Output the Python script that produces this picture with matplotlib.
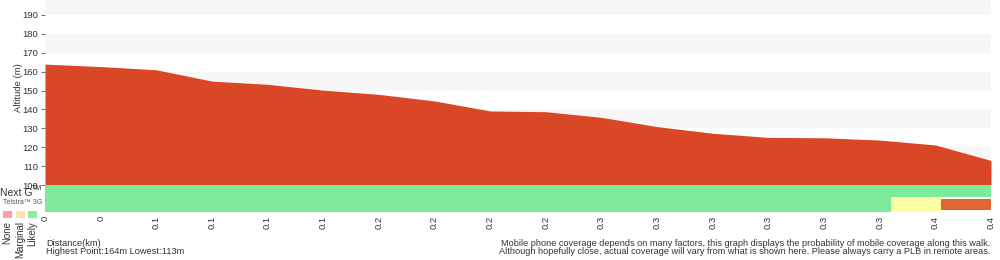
import matplotlib
matplotlib.use("Agg")
import matplotlib.pyplot as plt
from matplotlib.patches import Rectangle

plt.rcParams['font.family'] = ['Liberation Sans', 'DejaVu Sans']

# ---- data ----
tick_labels = ["0", "0", "0.1", "0.1", "0.1", "0.1", "0.2", "0.2", "0.2", "0.2",
               "0.3", "0.3", "0.3", "0.3", "0.3", "0.3", "0.4", "0.4"]
altitude = [164, 162.7, 161, 155, 153.3, 150.2, 148, 144.5, 139.2, 138.8,
            135.8, 130.9, 127.4, 125.2, 125.0, 123.8, 121.2, 113]
y_ticks = [100, 110, 120, 130, 140, 150, 160, 170, 180, 190]
# coverage segments: (start index, end index, level)
nextg_segments = [(0, 17, "Likely")]
g3_segments = [(0, 15.2, "Likely"), (15.2, 16.1, "Marginal"), (16.1, 17, "None")]
legend_labels = ["None", "Marginal", "Likely"]

RED = "#da4727"
bar_colors = {"Likely": "#7deb9b", "Marginal": "#ffffa3", "None": "#e0652f"}
legend_colors = {"None": "#ff9f9f", "Marginal": "#ffe2a8", "Likely": "#88ef9a"}
TXT = "#333333"

fig = plt.figure(figsize=(10, 2.6), dpi=100)
W, H = 1000, 260

def fx(px):
    return px / W

def fy(py):
    return 1 - py / H

x = list(range(len(altitude)))
x0, x1 = 45, 991

# main altitude axes (pixel 0 .. 185)
ax = fig.add_axes([fx(x0), fy(185), fx(x1 - x0), 185 / H])
ymax = 100 + 185 / 1.889
ax.set_xlim(0, len(altitude) - 1)
ax.set_ylim(100, ymax)
for b in range(110, 200, 20):
    ax.axhspan(b, b + 10, color="#f7f7f7", lw=0, zorder=0)
ax.fill_between(x, 100, altitude, color=RED, lw=0, zorder=2)
ax.set_yticks(y_ticks)
ax.set_yticklabels([str(v) for v in y_ticks], fontsize=6.8, color=TXT)
ax.tick_params(axis="y", length=3, width=0.8, color="#777777", pad=2)
ax.set_xticks([])
for s in ax.spines.values():
    s.set_visible(False)
ax.set_ylabel("Altitude (m)", fontsize=6.8, color=TXT)
ax.yaxis.set_label_coords((23 - x0) / (x1 - x0), (185 - 88) / 185)

# coverage axes (pixel 185 .. 212)
cax = fig.add_axes([fx(x0), fy(212), fx(x1 - x0), 27 / H])
cax.set_xlim(0, len(altitude) - 1)
cax.set_ylim(0, 27)
for (a, b, lvl) in nextg_segments:
    cax.add_patch(Rectangle((a, 15), b - a, 12, color=bar_colors[lvl], lw=0))
for (a, b, lvl) in g3_segments:
    if lvl == "None":
        cax.add_patch(Rectangle((a, 1.8), b - a, 11, color=bar_colors[lvl], lw=0))
    else:
        cax.add_patch(Rectangle((a, 0), b - a, 15.3, color=bar_colors[lvl], lw=0))
for s in cax.spines.values():
    s.set_visible(False)
cax.set_yticks([])
cax.set_xticks(x)
cax.set_xticklabels(tick_labels, rotation=90, fontsize=6.8, color=TXT)
cax.tick_params(axis="x", length=0, pad=3)

# left-side labels
fig.text(fx(0), fy(193), "Next G", fontsize=7.5, color=TXT, va="center", ha="left")
fig.text(fx(32), fy(189), "TM", fontsize=5, color=TXT, va="center", ha="left")
fig.text(fx(3), fy(203), "Telstra\u2122 3G", fontsize=5, color="#555555", va="center", ha="left")
sq_x = [3, 16, 28]
for px, lbl in zip(sq_x, legend_labels):
    fig.patches.append(Rectangle((fx(px), fy(218)), 8.5 / W, 7.5 / H,
                                 transform=fig.transFigure, color=legend_colors[lbl], lw=0))
    fig.text(fx(px + 4.5), fy(221), lbl, rotation=90, fontsize=7, color=TXT,
             ha="center", va="top")

# bottom texts
fig.text(fx(46), fy(243), "Distance(km)", fontsize=6.7, color=TXT, va="center", ha="left")
fig.text(fx(46), fy(252), "Highest Point:164m Lowest:113m", fontsize=6.7, color=TXT,
         va="center", ha="left")
fig.text(fx(990), fy(243),
         "Mobile phone coverage depends on many factors, this graph displays the probability of mobile coverage along this walk.",
         fontsize=6.6, color=TXT, va="center", ha="right")
fig.text(fx(990), fy(252),
         "Although hopefully close, actual coverage will vary from what is shown here. Please always carry a PLB in remote areas.",
         fontsize=6.6, color=TXT, va="center", ha="right")

fig.savefig("out.png", dpi=100)
